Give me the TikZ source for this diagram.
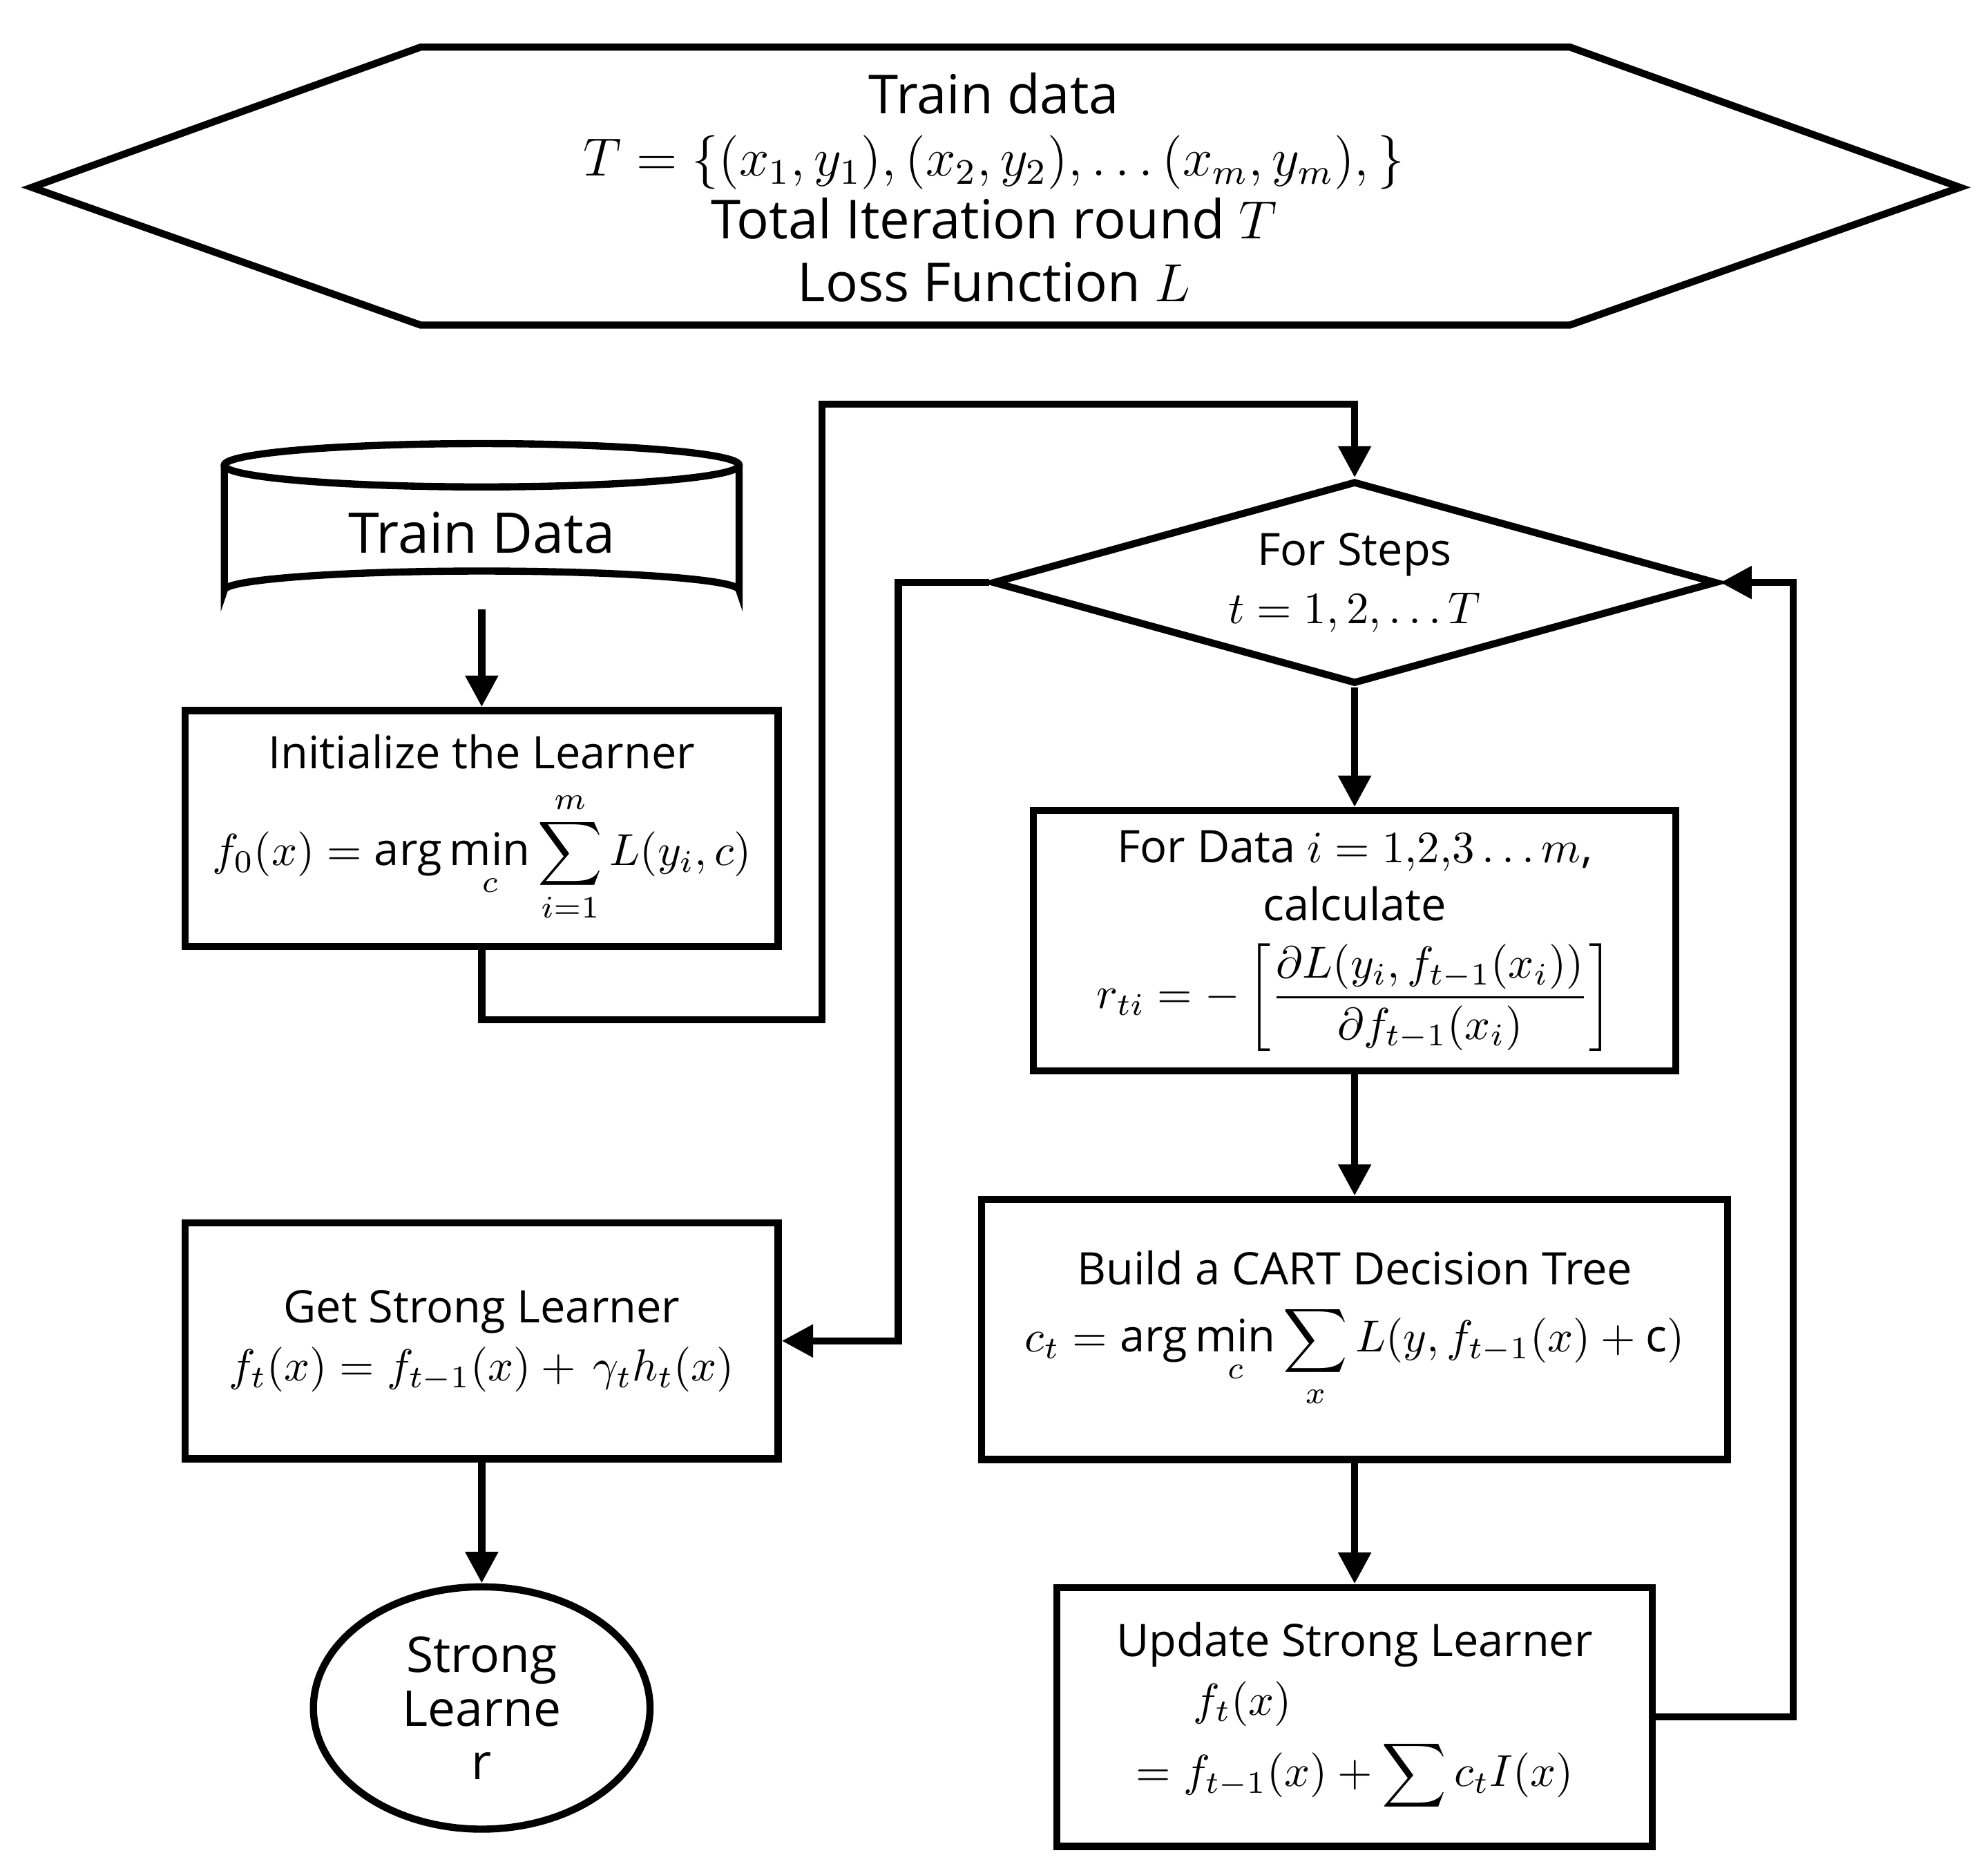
\documentclass[tikz,border=0pt]{standalone}
\usepackage{fontspec}
\setmainfont{Open Sans}
\usepackage{amsmath}
\usetikzlibrary{shapes.geometric,arrows.meta}
\begin{document}
\begin{tikzpicture}[x=0.01cm,y=-0.01cm,
  box/.style={draw, line width=1.6pt, align=center, inner sep=0pt, font=\fontsize{10}{13}\selectfont},
  flow/.style={line width=1.6pt, -{Triangle[length=7pt,width=7pt]}}]
\useasboundingbox (0,0) rectangle (1560,1469);
% input hexagon
\draw[line width=1.6pt] (25,147) -- (330,37) -- (1232,37) -- (1538,147) -- (1232,255) -- (330,255) -- cycle;
\node[align=center, font=\fontsize{12}{14}\selectfont] (hex) at (780,147)
  {Train data\\ $T=\{(x_1,y_1),(x_2,y_2),\dots(x_m,y_m),\}$\\ Total Iteration round $T$\\ Loss Function $L$};
% cylinder
\node[minimum width=4.04cm, minimum height=1.2cm, font=\fontsize{12.5}{15}\selectfont] (cyl) at (378,418) {Train Data};
\draw[line width=1.6pt] (176,365) -- (176,463) arc[start angle=180,end angle=360,x radius=202,y radius=15] -- (580,365);
\draw[line width=1.6pt] (378,365) ellipse[x radius=202,y radius=17];
% boxes
\node[box, minimum width=4.65cm, minimum height=1.85cm] (init) at (378,650)
  {Initialize the Learner\\[4pt] $\displaystyle f_0(x)=\arg\min_c\sum_{i=1}^{m}L(y_i,c)$};
\node[box, diamond, aspect=3.57, minimum width=5.68cm, minimum height=1.59cm] (steps) at (1063,457)
  {For Steps\\ $t=1,2,\dots T$};
\node[box, minimum width=5.04cm, minimum height=2.04cm] (grad) at (1063,738)
  {For Data $i=1{,}2{,}3\dots m$,\\ calculate\\[4pt] $r_{ti}=-\left[\dfrac{\partial L(y_i,f_{t-1}(x_i))}{\partial f_{t-1}(x_i)}\right]$};
\node[box, minimum width=5.85cm, minimum height=2.04cm] (cart) at (1063,1043)
  {Build a CART Decision Tree\\[2pt] $\displaystyle c_t=\arg\min_c\sum_{x}L(y,f_{t-1}(x)+\mathrm{c})$};
\node[box, minimum width=4.67cm, minimum height=2.03cm] (upd) at (1063,1347)
  {Update Strong Learner\\ \hspace*{-5em}$f_t(x)$\\[2pt] $\displaystyle =f_{t-1}(x)+\sum c_tI(x)$};
\node[box, minimum width=4.65cm, minimum height=1.85cm] (get) at (378,1052)
  {Get Strong Learner\\ $f_t(x)=f_{t-1}(x)+\,\gamma_t h_t(x)$};
\node[box, ellipse, minimum width=2.64cm, minimum height=1.9cm, font=\fontsize{11}{12}\selectfont] (out) at (378,1340)
  {Strong\\ Learne\\ r};
% connectors
\draw[flow] (cyl.south |- 0,478) -- (init.north);
\draw[flow] (init.south) -- (378,800) -- (645,800) -- (645,317) -- (1063,317) -- (steps.north);
\draw[flow] (steps.west) -- (705,457) -- (705,1052) -- (get.east);
\draw[flow] (steps.south) -- (grad.north);
\draw[flow] (grad.south) -- (cart.north);
\draw[flow] (cart.south) -- (upd.north);
\draw[flow] (upd.east) -- (1407,1347) -- (1407,457) -- (steps.east);
\draw[flow] (get.south) -- (out.north);
\end{tikzpicture}
\end{document}
